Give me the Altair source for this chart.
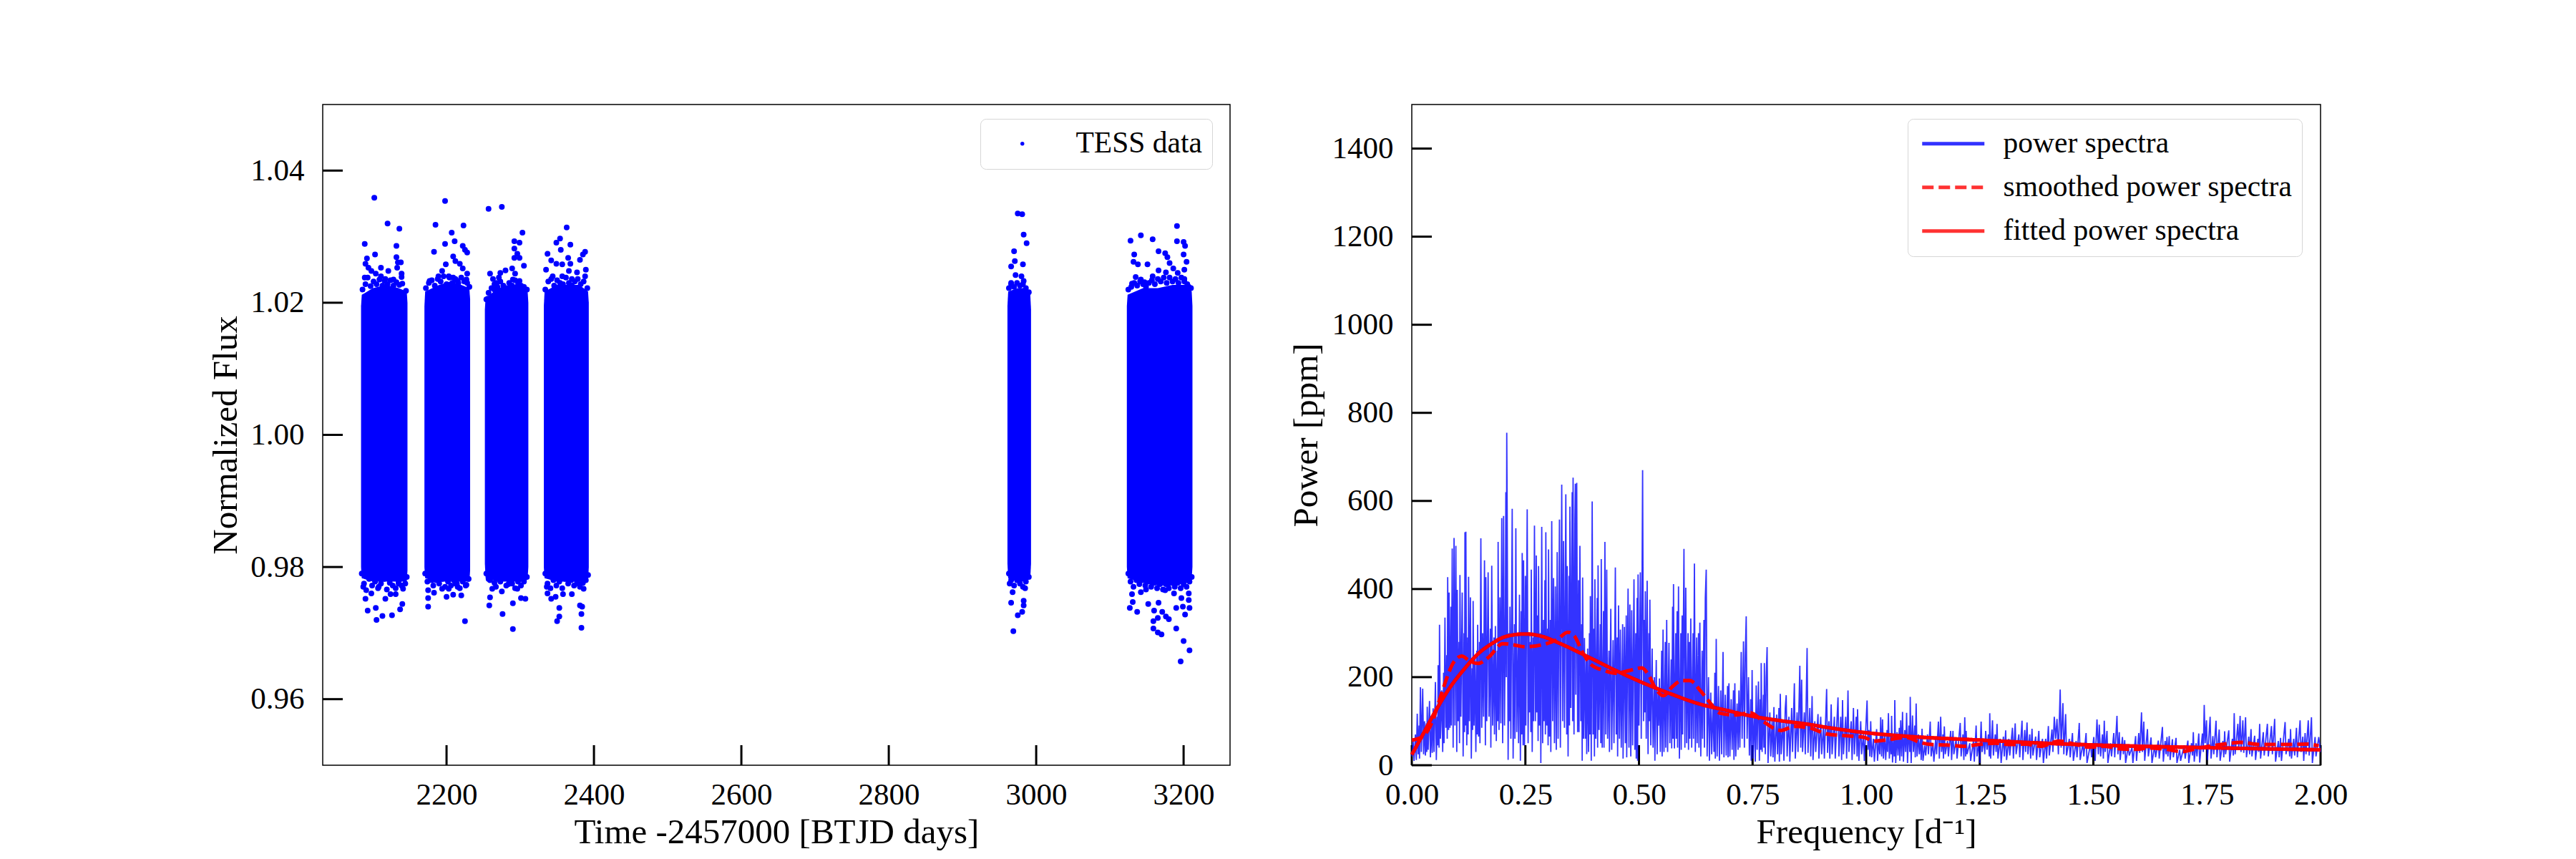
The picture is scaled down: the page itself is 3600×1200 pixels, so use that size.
import pandas as pd
import altair as alt

FONT = "Liberation Serif"

# light curve: solid part of each sector
sector_1 = [(2084, 1.0195, 0.9800), (2085, 1.0212, 0.9783), (2100, 1.0222, 0.9778), (2118, 1.0227, 0.9778), (2135, 1.0222, 0.9778), (2146, 1.0217, 0.9778), (2147, 1.0200, 0.9795)]
sector_2 = [(2170, 1.0195, 0.9800), (2171, 1.0217, 0.9783), (2190, 1.0227, 0.9778), (2205, 1.0232, 0.9778), (2220, 1.0227, 0.9778), (2231, 1.0222, 0.9778), (2232, 1.0205, 0.9795)]
sector_3 = [(2252, 1.0190, 0.9805), (2253, 1.0207, 0.9783), (2270, 1.0222, 0.9778), (2285, 1.0227, 0.9778), (2300, 1.0227, 0.9778), (2310, 1.0217, 0.9783), (2311, 1.0200, 0.9800)]
sector_4 = [(2332, 1.0195, 0.9800), (2333, 1.0217, 0.9783), (2350, 1.0227, 0.9778), (2365, 1.0227, 0.9778), (2380, 1.0227, 0.9778), (2392, 1.0217, 0.9778), (2393, 1.0200, 0.9800)]
sector_5 = [(2961, 1.0195, 0.9805), (2962, 1.0217, 0.9783), (2975, 1.0222, 0.9778), (2985, 1.0222, 0.9778), (2992, 1.0212, 0.9783), (2993, 1.0190, 0.9805)]
sector_6 = [(3123, 1.0195, 0.9800), (3124, 1.0212, 0.9783), (3145, 1.0222, 0.9776), (3165, 1.0222, 0.9772), (3185, 1.0227, 0.9772), (3205, 1.0227, 0.9776), (3211, 1.0217, 0.9783), (3212, 1.0195, 0.9800)]

# light curve: points along the ragged rim of the solid part
rim_1 = [(2086, 1.0220), (2090, 1.0228), (2093, 1.0238), (2097, 1.0225), (2101, 1.0232), (2105, 1.0228), (2109, 1.0235), (2113, 1.0226), (2116, 1.0233), (2120, 1.0228), (2124, 1.0234), (2128, 1.0226), (2132, 1.0231), (2136, 1.0227), (2140, 1.0229), (2145, 1.0218),
         (2085, 0.9790), (2088, 0.9775), (2091, 0.9765), (2095, 0.9782), (2099, 0.9772), (2103, 0.9778), (2107, 0.9768), (2111, 0.9775), (2115, 0.9782), (2119, 0.9766), (2123, 0.9776), (2127, 0.9772), (2131, 0.9768), (2135, 0.9778), (2139, 0.9772), (2144, 0.9775), (2146, 0.9785)]
rim_2 = [(2172, 1.0222), (2176, 1.0230), (2180, 1.0234), (2184, 1.0226), (2188, 1.0236), (2192, 1.0232), (2196, 1.0240), (2200, 1.0228), (2204, 1.0238), (2208, 1.0230), (2212, 1.0236), (2216, 1.0230), (2220, 1.0238), (2224, 1.0232), (2228, 1.0230), (2231, 1.0224),
         (2171, 0.9790), (2174, 0.9778), (2178, 0.9785), (2182, 0.9772), (2186, 0.9780), (2190, 0.9775), (2194, 0.9782), (2198, 0.9770), (2202, 0.9778), (2206, 0.9772), (2210, 0.9780), (2214, 0.9775), (2218, 0.9768), (2222, 0.9778), (2226, 0.9772), (2230, 0.9782)]
rim_3 = [(2254, 1.0205), (2257, 1.0215), (2261, 1.0222), (2265, 1.0228), (2269, 1.0224), (2273, 1.0232), (2277, 1.0226), (2281, 1.0222), (2285, 1.0230), (2289, 1.0226), (2293, 1.0234), (2297, 1.0228), (2301, 1.0226), (2305, 1.0224), (2309, 1.0220),
         (2254, 0.9790), (2257, 0.9782), (2261, 0.9786), (2265, 0.9776), (2269, 0.9782), (2273, 0.9778), (2277, 0.9785), (2281, 0.9772), (2285, 0.9780), (2289, 0.9775), (2293, 0.9768), (2297, 0.9778), (2301, 0.9772), (2305, 0.9780), (2309, 0.9785)]
rim_4 = [(2334, 1.0220), (2338, 1.0232), (2342, 1.0236), (2346, 1.0226), (2350, 1.0234), (2354, 1.0230), (2358, 1.0228), (2362, 1.0238), (2366, 1.0230), (2370, 1.0226), (2374, 1.0232), (2378, 1.0236), (2382, 1.0228), (2386, 1.0232), (2391, 1.0222),
         (2334, 0.9790), (2337, 0.9775), (2341, 0.9768), (2345, 0.9780), (2349, 0.9772), (2353, 0.9778), (2357, 0.9768), (2361, 0.9782), (2365, 0.9775), (2369, 0.9780), (2373, 0.9772), (2377, 0.9778), (2381, 0.9770), (2385, 0.9776), (2389, 0.9780), (2392, 0.9788)]
rim_5 = [(2963, 1.0222), (2966, 1.0228), (2970, 1.0224), (2974, 1.0230), (2978, 1.0226), (2982, 1.0228), (2986, 1.0222), (2990, 1.0216),
         (2963, 0.9790), (2966, 0.9780), (2970, 0.9772), (2974, 0.9780), (2978, 0.9775), (2982, 0.9770), (2986, 0.9778), (2990, 0.9785)]
rim_6 = [(3125, 1.0220), (3129, 1.0224), (3133, 1.0230), (3137, 1.0226), (3141, 1.0232), (3145, 1.0228), (3149, 1.0224), (3153, 1.0230), (3157, 1.0234), (3161, 1.0228), (3165, 1.0236), (3169, 1.0232), (3173, 1.0238), (3177, 1.0230), (3181, 1.0238), (3185, 1.0232), (3189, 1.0236), (3193, 1.0230), (3197, 1.0238), (3201, 1.0232), (3205, 1.0228), (3210, 1.0222),
         (3125, 0.9790), (3128, 0.9778), (3132, 0.9770), (3136, 0.9780), (3140, 0.9774), (3144, 0.9780), (3148, 0.9772), (3152, 0.9778), (3156, 0.9770), (3160, 0.9776), (3164, 0.9768), (3168, 0.9774), (3172, 0.9766), (3176, 0.9774), (3180, 0.9768), (3184, 0.9776), (3188, 0.9770), (3192, 0.9776), (3196, 0.9768), (3200, 0.9774), (3204, 0.9770), (3208, 0.9778), (3211, 0.9785)]

# light curve: single points outside the solid part
points_1 = [(2102, 1.0359), (2120, 1.0320), (2136, 1.0312), (2089, 1.0289), (2132, 1.0286), (2103, 1.0273), (2132, 1.0269), (2092, 1.0267), (2134, 1.0261), (2138, 1.0261), (2090, 1.0259), (2094, 1.0253), (2111, 1.0253), (2133, 1.0253), (2098, 1.0248), (2121, 1.0248), (2104, 1.0244), (2139, 1.0244), (2089, 1.0238), (2111, 1.0240), (2117, 1.0236), (2139, 1.0239), (2128, 1.0235),
            (2090, 0.9752), (2093, 0.9734), (2104, 0.9738), (2105, 0.9720), (2113, 0.9726), (2126, 0.9727), (2137, 0.9736), (2140, 0.9744), (2117, 0.9752), (2124, 0.9759), (2131, 0.9759), (2141, 0.9767), (2098, 0.9760), (2087, 0.9770), (2108, 0.9770), (2135, 0.9775)]
points_2 = [(2198, 1.0354), (2185, 1.0318), (2223, 1.0317), (2207, 1.0306), (2211, 1.0293), (2198, 1.0289), (2222, 1.0286), (2225, 1.0280), (2228, 1.0276), (2183, 1.0277), (2209, 1.0270), (2212, 1.0263), (2218, 1.0259), (2199, 1.0258), (2222, 1.0252), (2194, 1.0248), (2228, 1.0244), (2203, 1.0240), (2189, 1.0240), (2227, 1.0235), (2209, 1.0238), (2177, 1.0233), (2215, 1.0233),
            (2175, 0.9740), (2175, 0.9753), (2175, 0.9765), (2183, 0.9761), (2200, 0.9755), (2209, 0.9758), (2220, 0.9757), (2225, 0.9718), (2227, 0.9773), (2194, 0.9767), (2203, 0.9767), (2215, 0.9770), (2180, 0.9780), (2212, 0.9775)]
points_3 = [(2257, 1.0342), (2275, 1.0345), (2303, 1.0306), (2292, 1.0293), (2299, 1.0291), (2292, 1.0282), (2296, 1.0274), (2299, 1.0268), (2292, 1.0268), (2305, 1.0256), (2259, 1.0244), (2273, 1.0245), (2280, 1.0249), (2289, 1.0252), (2293, 1.0244), (2263, 1.0236), (2271, 1.0238), (2299, 1.0233), (2268, 1.0230), (2290, 1.0235), (2305, 1.0221), (2265, 1.0220), (2256, 1.0206),
            (2276, 0.9729), (2290, 0.9706), (2258, 0.9742), (2259, 0.9754), (2262, 0.9767), (2267, 0.9770), (2275, 0.9763), (2290, 0.9745), (2301, 0.9753), (2307, 0.9752), (2296, 0.9767), (2284, 0.9774), (2305, 0.9778), (2259, 0.9780)]
points_4 = [(2363, 1.0314), (2354, 1.0297), (2349, 1.0291), (2368, 1.0288), (2355, 1.0280), (2337, 1.0274), (2388, 1.0277), (2365, 1.0268), (2385, 1.0273), (2342, 1.0264), (2381, 1.0265), (2349, 1.0259), (2368, 1.0259), (2357, 1.0258), (2389, 1.0250), (2335, 1.0250), (2366, 1.0248), (2377, 1.0246), (2344, 1.0240), (2388, 1.0240), (2357, 1.0240), (2370, 1.0236),
            (2350, 0.9718), (2353, 0.9725), (2383, 0.9708), (2383, 0.9729), (2381, 0.9742), (2384, 0.9740), (2353, 0.9738), (2336, 0.9770), (2337, 0.9760), (2342, 0.9752), (2348, 0.9755), (2358, 0.9759), (2370, 0.9759), (2386, 0.9767), (2380, 0.9774)]
points_5 = [(2975, 1.0335), (2981, 1.0334), (2983, 1.0303), (2987, 1.0290), (2970, 1.0278), (2971, 1.0263), (2966, 1.0255), (2982, 1.0258), (2972, 1.0242), (2980, 1.0240), (2966, 1.0230), (2983, 1.0233),
            (2968, 0.9762), (2966, 0.9746), (2983, 0.9749), (2983, 0.9742), (2981, 0.9732), (2975, 0.9727), (2969, 0.9703), (2985, 0.9768), (2964, 0.9775)]
points_6 = [(3191, 1.0316), (3142, 1.0302), (3128, 1.0294), (3158, 1.0296), (3191, 1.0293), (3200, 1.0292), (3202, 1.0286), (3166, 1.0278), (3175, 1.0275), (3133, 1.0273), (3178, 1.0269), (3200, 1.0273), (3132, 1.0262), (3204, 1.0262), (3138, 1.0258), (3151, 1.0258), (3181, 1.0260), (3186, 1.0252), (3166, 1.0249), (3176, 1.0246), (3201, 1.0250), (3192, 1.0245), (3158, 1.0240), (3135, 1.0239), (3142, 1.0235), (3147, 1.0231), (3201, 1.0236), (3130, 1.0229), (3207, 1.0224),
            (3196, 0.9657), (3208, 0.9674), (3200, 0.9688), (3190, 0.9707), (3170, 0.9698), (3165, 0.9701), (3159, 0.9707), (3159, 0.9718), (3165, 0.9723), (3180, 0.9721), (3176, 0.9725), (3171, 0.9732), (3160, 0.9734), (3137, 0.9732), (3127, 0.9738), (3202, 0.9728), (3190, 0.9738), (3208, 0.9738), (3199, 0.9740), (3131, 0.9747), (3152, 0.9744), (3166, 0.9746), (3207, 0.9750), (3197, 0.9753), (3187, 0.9760), (3142, 0.9762), (3130, 0.9759), (3207, 0.9760), (3149, 0.9766), (3175, 0.9765)]

# power spectrum, peak and trough readings in order of frequency
spectrum_a = [(0.000, 20), (0.003, 55), (0.005, 10), (0.008, 70), (0.010, 12), (0.012, 117), (0.014, 25), (0.016, 90), (0.017, 15), (0.019, 177), (0.021, 30), (0.024, 174), (0.026, 25), (0.028, 100), (0.030, 22), (0.032, 95), (0.033, 30), (0.034, 133), (0.036, 35), (0.039, 146), (0.041, 18), (0.044, 105), (0.045, 28), (0.047, 129), (0.049, 30), (0.052, 189), (0.054, 12), (0.056, 110), (0.057, 45), (0.058, 227), (0.060, 40), (0.061, 319), (0.063, 60), (0.066, 170), (0.068, 30), (0.070, 210), (0.071, 50), (0.073, 335), (0.075, 85), (0.077, 250), (0.078, 60), (0.079, 427), (0.081, 80), (0.082, 392), (0.084, 85), (0.086, 360), (0.087, 90), (0.089, 492), (0.091, 40), (0.093, 516), (0.095, 90), (0.097, 498), (0.099, 30), (0.100, 398), (0.102, 100), (0.104, 280), (0.105, 50), (0.106, 432), (0.108, 110), (0.111, 392), (0.113, 20), (0.115, 300), (0.116, 75), (0.117, 529), (0.118, 90), (0.119, 530), (0.121, 45), (0.123, 290), (0.124, 70), (0.125, 428), (0.127, 100), (0.129, 381), (0.131, 15), (0.133, 220), (0.134, 80), (0.135, 373), (0.137, 90), (0.139, 250), (0.141, 30), (0.143, 260), (0.144, 70), (0.145, 319), (0.147, 65), (0.149, 280), (0.150, 50), (0.152, 515), (0.154, 85), (0.156, 300), (0.158, 110), (0.160, 465), (0.162, 45), (0.163, 427), (0.165, 100), (0.168, 438), (0.170, 110), (0.173, 310), (0.174, 40), (0.176, 453), (0.178, 90), (0.181, 290), (0.182, 70), (0.184, 316), (0.186, 55), (0.188, 260), (0.189, 100), (0.190, 507), (0.192, 80), (0.194, 381), (0.196, 95), (0.198, 561), (0.200, 50), (0.202, 566), (0.204, 90), (0.206, 350), (0.207, 620), (0.208, 200), (0.209, 755), (0.210, 566), (0.212, 12), (0.214, 300), (0.215, 100), (0.216, 360), (0.218, 60), (0.221, 582), (0.223, 15), (0.226, 320), (0.227, 60), (0.229, 538), (0.231, 75), (0.234, 300), (0.235, 50), (0.237, 387), (0.239, 10), (0.241, 350), (0.242, 70), (0.243, 482), (0.245, 45), (0.246, 465), (0.248, 45), (0.250, 430)]
spectrum_b = [(0.251, 90), (0.254, 581), (0.256, 50), (0.258, 300), (0.259, 120), (0.261, 280), (0.262, 75), (0.263, 444), (0.265, 30), (0.267, 290), (0.268, 100), (0.270, 544), (0.272, 100), (0.274, 476), (0.275, 120), (0.277, 340), (0.278, 55), (0.279, 452), (0.281, 90), (0.283, 300), (0.284, 5), (0.286, 541), (0.288, 50), (0.290, 330), (0.291, 100), (0.293, 420), (0.294, 70), (0.295, 529), (0.297, 90), (0.299, 310), (0.300, 45), (0.301, 490), (0.303, 65), (0.305, 330), (0.306, 30), (0.308, 554), (0.310, 100), (0.312, 425), (0.314, 50), (0.316, 406), (0.318, 35), (0.320, 484), (0.322, 60), (0.325, 558), (0.327, 40), (0.330, 637), (0.332, 100), (0.334, 509), (0.336, 85), (0.339, 615), (0.341, 70), (0.342, 452), (0.344, 20), (0.346, 430), (0.347, 90), (0.348, 587), (0.350, 130), (0.352, 480), (0.353, 620), (0.354, 100), (0.355, 653), (0.357, 70), (0.359, 560), (0.360, 639), (0.361, 160), (0.363, 641), (0.365, 75), (0.367, 420), (0.368, 75), (0.370, 498), (0.372, 100), (0.374, 320), (0.375, 10), (0.376, 426), (0.378, 60), (0.380, 289), (0.382, 60), (0.384, 250), (0.385, 25), (0.387, 265), (0.389, 30), (0.391, 300), (0.392, 70), (0.393, 384), (0.395, 10), (0.397, 599), (0.399, 70), (0.401, 310), (0.402, 20), (0.403, 422), (0.405, 60), (0.408, 380), (0.409, 40), (0.410, 454), (0.412, 80), (0.415, 320), (0.416, 50), (0.417, 468), (0.419, 40), (0.422, 350), (0.423, 40), (0.425, 507), (0.427, 70), (0.429, 444), (0.431, 60), (0.434, 260), (0.435, 30), (0.438, 355), (0.440, 35), (0.443, 284), (0.445, 50), (0.448, 449), (0.450, 70), (0.452, 290), (0.453, 20), (0.455, 363), (0.457, 60), (0.459, 308), (0.461, 40), (0.464, 320), (0.465, 15), (0.468, 314), (0.470, 50), (0.472, 340), (0.473, 18), (0.476, 401), (0.478, 40), (0.480, 365), (0.482, 20), (0.484, 352), (0.486, 45), (0.489, 422), (0.491, 35), (0.493, 300), (0.494, 15), (0.496, 380), (0.497, 10), (0.498, 433), (0.500, 90), (0.503, 438), (0.505, 60), (0.508, 670)]
spectrum_c = [(0.510, 100), (0.512, 330), (0.513, 120), (0.514, 395), (0.516, 60), (0.518, 419), (0.520, 25), (0.522, 300), (0.523, 100), (0.524, 376), (0.526, 45), (0.529, 265), (0.531, 40), (0.534, 200), (0.535, 10), (0.538, 239), (0.540, 25), (0.542, 170), (0.543, 90), (0.545, 197), (0.547, 30), (0.550, 260), (0.551, 20), (0.553, 308), (0.555, 30), (0.558, 280), (0.559, 40), (0.561, 330), (0.563, 30), (0.566, 278), (0.568, 50), (0.571, 240), (0.572, 38), (0.574, 360), (0.575, 60), (0.576, 411), (0.578, 38), (0.581, 300), (0.582, 60), (0.584, 350), (0.585, 40), (0.587, 406), (0.589, 15), (0.592, 300), (0.593, 35), (0.595, 340), (0.596, 70), (0.599, 491), (0.601, 40), (0.603, 403), (0.605, 50), (0.608, 300), (0.609, 35), (0.611, 280), (0.612, 60), (0.614, 333), (0.616, 40), (0.619, 300), (0.620, 60), (0.622, 458), (0.624, 30), (0.627, 290), (0.628, 50), (0.631, 300), (0.632, 40), (0.634, 324), (0.636, 20), (0.639, 260), (0.640, 60), (0.643, 330), (0.644, 40), (0.646, 380), (0.648, 444), (0.650, 20), (0.653, 200), (0.655, 10), (0.658, 165), (0.660, 25), (0.663, 140), (0.665, 30), (0.667, 210), (0.668, 15), (0.670, 287), (0.672, 20), (0.675, 180), (0.677, 10), (0.680, 170), (0.682, 25), (0.685, 257), (0.687, 18), (0.690, 160), (0.692, 22), (0.695, 180), (0.696, 18), (0.698, 186), (0.700, 20), (0.703, 150), (0.705, 35), (0.708, 170), (0.709, 12), (0.711, 186), (0.713, 20), (0.716, 140), (0.718, 35), (0.720, 170), (0.722, 40), (0.725, 257), (0.727, 60), (0.730, 281), (0.732, 40), (0.734, 250), (0.736, 338), (0.738, 60), (0.741, 200), (0.743, 22), (0.746, 150), (0.747, 10), (0.749, 216), (0.751, 15), (0.754, 120), (0.756, 8), (0.758, 181), (0.760, 35), (0.763, 190), (0.765, 10), (0.767, 150), (0.768, 35), (0.769, 232), (0.771, 30), (0.774, 160), (0.775, 40), (0.776, 232), (0.778, 25), (0.780, 200), (0.782, 268), (0.784, 5), (0.788, 120), (0.790, 20), (0.793, 100), (0.795, 18), (0.797, 132), (0.799, 8), (0.803, 115), (0.805, 25), (0.808, 130), (0.809, 8), (0.811, 162), (0.813, 25), (0.817, 100), (0.819, 10), (0.822, 130), (0.824, 159), (0.826, 20), (0.830, 110), (0.832, 8), (0.836, 130), (0.838, 30), (0.842, 186), (0.844, 15), (0.848, 120), (0.850, 30), (0.854, 226), (0.856, 40), (0.858, 194), (0.860, 30), (0.864, 120), (0.866, 25), (0.870, 266), (0.872, 28), (0.876, 130), (0.878, 20), (0.881, 157), (0.883, 12), (0.887, 100), (0.889, 30), (0.894, 116), (0.896, 15), (0.900, 110), (0.902, 25), (0.906, 90), (0.908, 15), (0.913, 173), (0.915, 28), (0.918, 100), (0.920, 15), (0.923, 138), (0.925, 25), (0.930, 110), (0.932, 15), (0.938, 154), (0.940, 20), (0.944, 110), (0.946, 12), (0.948, 148), (0.950, 25), (0.955, 110), (0.957, 15), (0.960, 170), (0.962, 30), (0.967, 100), (0.969, 12), (0.972, 130), (0.974, 25), (0.978, 110), (0.980, 20), (0.981, 127), (0.984, 10), (0.988, 100), (0.990, 25), (0.994, 70), (0.996, 10), (1.002, 147), (1.004, 35), (1.006, 80), (1.008, 20), (1.010, 100)]
spectrum_d = [(1.012, 18), (1.016, 60), (1.018, 8), (1.021, 50), (1.023, 82), (1.025, 10), (1.028, 60), (1.030, 25), (1.032, 109), (1.034, 20), (1.036, 104), (1.038, 15), (1.041, 70), (1.043, 12), (1.046, 80), (1.047, 30), (1.049, 118), (1.051, 15), (1.054, 70), (1.055, 25), (1.056, 112), (1.058, 6), (1.061, 70), (1.062, 20), (1.063, 148), (1.065, 5), (1.068, 75), (1.070, 22), (1.073, 85), (1.074, 10), (1.076, 102), (1.078, 20), (1.080, 121), (1.082, 8), (1.085, 80), (1.087, 30), (1.089, 119), (1.091, 5), (1.094, 90), (1.096, 30), (1.097, 155), (1.099, 5), (1.102, 113), (1.104, 30), (1.107, 90), (1.108, 18), (1.110, 140), (1.112, 20), (1.115, 70), (1.117, 25), (1.120, 65), (1.121, 12), (1.123, 83), (1.125, 10), (1.129, 45), (1.131, 22), (1.135, 70), (1.137, 25), (1.141, 99), (1.143, 20), (1.147, 50), (1.149, 8), (1.153, 60), (1.155, 25), (1.159, 99), (1.161, 15), (1.164, 110), (1.166, 30), (1.169, 70), (1.170, 15), (1.172, 88), (1.174, 25), (1.179, 55), (1.181, 20), (1.186, 78), (1.188, 12), (1.191, 78), (1.193, 25), (1.198, 60), (1.200, 15), (1.207, 96), (1.209, 20), (1.213, 70), (1.215, 12), (1.217, 109), (1.219, 20), (1.220, 78), (1.222, 25), (1.228, 50), (1.230, 10), (1.236, 55), (1.238, 8), (1.242, 90), (1.244, 20), (1.248, 50), (1.250, 5), (1.253, 99), (1.255, 30), (1.259, 60), (1.261, 25), (1.263, 78), (1.266, 35), (1.269, 70), (1.271, 20), (1.272, 118), (1.274, 15), (1.278, 102), (1.280, 22), (1.284, 70), (1.286, 30), (1.288, 94), (1.290, 15), (1.295, 60), (1.297, 5), (1.302, 65), (1.304, 20), (1.307, 79), (1.309, 12), (1.314, 60), (1.316, 22), (1.322, 85), (1.324, 15), (1.328, 95), (1.330, 25), (1.336, 70), (1.338, 18), (1.343, 101), (1.345, 12), (1.349, 80), (1.351, 30), (1.354, 97), (1.356, 25), (1.360, 70), (1.362, 15), (1.365, 83), (1.367, 22), (1.373, 65), (1.375, 12), (1.380, 78), (1.382, 18), (1.388, 60), (1.390, 5), (1.395, 60), (1.397, 15), (1.401, 89), (1.403, 22), (1.409, 81), (1.411, 30), (1.414, 110), (1.417, 60), (1.420, 105), (1.423, 25), (1.427, 172), (1.429, 40), (1.433, 141), (1.435, 25), (1.439, 116), (1.441, 22), (1.447, 60), (1.449, 18), (1.454, 73), (1.456, 10), (1.462, 55), (1.464, 18), (1.469, 96), (1.471, 12), (1.477, 50), (1.479, 20), (1.484, 73), (1.486, 5), (1.494, 50), (1.496, 18), (1.501, 64), (1.504, 10), (1.508, 104)]
spectrum_e = [(1.511, 25), (1.513, 92), (1.516, 20), (1.520, 70), (1.522, 15), (1.524, 101), (1.526, 30), (1.530, 78), (1.532, 5), (1.538, 50), (1.540, 20), (1.545, 73), (1.547, 18), (1.552, 112), (1.554, 25), (1.557, 75), (1.559, 12), (1.564, 64), (1.566, 25), (1.569, 57), (1.571, 5), (1.577, 45), (1.579, 22), (1.585, 40), (1.587, 5), (1.593, 66), (1.595, 10), (1.600, 73), (1.602, 28), (1.606, 120), (1.608, 30), (1.611, 99), (1.613, 10), (1.619, 82), (1.621, 20), (1.627, 63), (1.629, 5), (1.635, 45), (1.637, 18), (1.643, 56), (1.645, 15), (1.652, 87), (1.654, 8), (1.658, 55), (1.660, 25), (1.662, 64), (1.664, 20), (1.667, 66), (1.669, 12), (1.674, 59), (1.676, 18), (1.682, 62), (1.684, 5), (1.690, 35), (1.692, 10), (1.700, 45), (1.702, 15), (1.708, 56), (1.710, 5), (1.716, 50), (1.718, 22), (1.720, 75), (1.722, 8), (1.726, 50), (1.728, 20), (1.732, 72), (1.734, 6), (1.740, 72), (1.742, 30), (1.744, 137), (1.746, 50), (1.749, 102), (1.751, 12), (1.757, 110), (1.759, 15), (1.763, 66), (1.765, 25), (1.770, 101), (1.772, 18), (1.777, 81), (1.779, 10), (1.785, 55), (1.787, 18), (1.789, 77), (1.791, 25), (1.798, 79), (1.800, 8), (1.806, 60), (1.808, 22), (1.810, 118), (1.812, 25), (1.818, 94), (1.820, 35), (1.823, 112), (1.825, 30), (1.829, 102), (1.831, 28), (1.835, 109), (1.837, 18), (1.842, 65), (1.844, 25), (1.847, 82), (1.849, 20), (1.855, 67), (1.857, 12), (1.862, 60), (1.864, 30), (1.866, 94), (1.868, 15), (1.874, 75), (1.876, 22), (1.883, 94), (1.885, 20), (1.892, 89), (1.894, 25), (1.899, 105), (1.901, 8), (1.907, 55), (1.909, 18), (1.912, 62), (1.914, 10), (1.922, 98), (1.924, 25), (1.930, 60), (1.932, 20), (1.934, 82), (1.936, 15), (1.941, 60), (1.943, 22), (1.947, 85), (1.949, 18), (1.955, 102), (1.957, 30), (1.961, 65), (1.963, 10), (1.966, 73), (1.968, 25), (1.973, 102), (1.975, 22), (1.980, 109), (1.982, 5), (1.988, 64), (1.990, 20), (1.996, 64), (2.000, 30)]

smoothed = [(0, 57), (0.022, 64), (0.043, 94), (0.061, 148), (0.076, 195), (0.091, 232), (0.11, 248), (0.128, 236), (0.146, 231), (0.17, 246), (0.2, 276), (0.225, 273), (0.249, 269), (0.285, 273), (0.321, 286), (0.343, 302), (0.358, 293), (0.376, 256), (0.394, 229), (0.424, 215), (0.449, 209), (0.479, 215), (0.506, 221), (0.521, 205), (0.536, 175), (0.554, 158), (0.573, 178), (0.594, 192), (0.612, 192), (0.636, 168), (0.654, 145), (0.679, 118), (0.712, 114), (0.745, 119), (0.775, 98), (0.812, 79), (0.842, 88), (0.878, 84), (0.913, 71), (0.955, 67), (0.997, 63), (1.015, 55), (1.041, 57), (1.076, 62), (1.089, 63), (1.118, 52), (1.144, 47), (1.178, 46), (1.215, 43), (1.246, 47), (1.283, 50), (1.317, 47), (1.351, 48), (1.383, 43), (1.425, 55), (1.461, 47), (1.493, 41), (1.524, 43), (1.561, 37), (1.59, 36), (1.624, 39), (1.661, 36), (1.695, 31), (1.724, 37), (1.761, 44), (1.803, 50), (1.824, 52), (1.866, 47), (1.908, 47), (1.934, 47), (1.968, 48), (1.996, 44)]
fitted = [(0, 24), (0.025, 71), (0.055, 128), (0.085, 178), (0.116, 219), (0.146, 253), (0.176, 276), (0.206, 292), (0.249, 298), (0.285, 293), (0.327, 276), (0.388, 246), (0.449, 215), (0.509, 187), (0.57, 162), (0.63, 140), (0.691, 125), (0.751, 111), (0.812, 101), (0.872, 93), (0.913, 86), (0.989, 75), (1.1, 65), (1.252, 57), (1.37, 51), (1.5, 46), (1.745, 40), (2.0, 35)]

time_ticks = [2200, 2400, 2600, 2800, 3000, 3200]
flux_ticks = [0.96, 0.98, 1.00, 1.02, 1.04]
freq_ticks = [0.00, 0.25, 0.50, 0.75, 1.00, 1.25, 1.50, 1.75, 2.00]
power_ticks = [0, 200, 400, 600, 800, 1000, 1200, 1400]

W = 1268
H = 923
TICK = 28


def axis_opts(title, values, fmt, pad, title_pad):
    return alt.Axis(title=title, values=values, format=fmt, grid=False, domain=False,
                    ticks=False, labelFont=FONT, labelFontSize=43, labelColor="black",
                    labelPadding=pad, titleFont=FONT, titleFontSize=49, titleFontWeight="normal",
                    titleColor="black", titlePadding=title_pad, labelFlush=False)


def legend_opts(x, y, **kw):
    return alt.Legend(title=None, orient="none", legendX=x, legendY=y, fillColor="white",
                      strokeColor="#d6d6d6", cornerRadius=8, labelFont=FONT, labelFontSize=41.5,
                      labelColor="black", labelLimit=800, **kw)


def ticks_layer(xvals, yvals, xscale, yscale):
    bottom = alt.Chart(pd.DataFrame({"t": xvals})).mark_rule(color="black", strokeWidth=3).encode(
        x=alt.X("t:Q", scale=xscale), y=alt.value(H), y2=alt.value(H - TICK))
    left = alt.Chart(pd.DataFrame({"t": yvals})).mark_rule(color="black", strokeWidth=3).encode(
        y=alt.Y("t:Q", scale=yscale), x=alt.value(0), x2=alt.value(TICK))
    return bottom, left


# light curve panel
time_scale = alt.Scale(domain=[2032, 3263], nice=False, zero=False)
flux_scale = alt.Scale(domain=[0.95, 1.05], nice=False, zero=False)

core_rows = []
for i, sector in enumerate([sector_1, sector_2, sector_3, sector_4, sector_5, sector_6]):
    for t, hi, lo in sector:
        core_rows.append({"time": t, "hi": hi, "lo": lo, "sector": i})
core = pd.DataFrame(core_rows)

single = pd.DataFrame(rim_1 + rim_2 + rim_3 + rim_4 + rim_5 + rim_6 + points_1 + points_2 + points_3 + points_4 + points_5 + points_6,
                      columns=["time", "flux"])
single["series"] = "TESS data"

tb, tl = ticks_layer(time_ticks, flux_ticks, time_scale, flux_scale)

core_layer = alt.Chart(core).mark_area(color="#0000ff").encode(
    x=alt.X("time:Q", scale=time_scale, axis=axis_opts("Time -2457000 [BTJD days]", time_ticks, "d", 20, 6)),
    y=alt.Y("hi:Q", scale=flux_scale, axis=axis_opts("Normalized Flux", flux_ticks, ".2f", 26, 9)),
    y2="lo:Q",
    detail="sector:N",
)
point_layer = alt.Chart(single).mark_circle(opacity=1, size=64).encode(
    x=alt.X("time:Q", scale=time_scale),
    y=alt.Y("flux:Q", scale=flux_scale),
    color=alt.Color("series:N", scale=alt.Scale(domain=["TESS data"], range=["#0000ff"]),
                    legend=legend_opts(919, 20, symbolSize=30, symbolType="circle", padding=14,
                                       symbolOffset=24, labelOffset=54)),
)
left_panel = alt.layer(tb, tl, core_layer, point_layer).properties(width=W, height=H)

# power spectrum panel
freq_scale = alt.Scale(domain=[0, 2], nice=False, zero=False)
power_scale = alt.Scale(domain=[0, 1500], nice=False, zero=False)
names = ["power spectra", "smoothed power spectra", "fitted power spectra"]
color_scale = alt.Scale(domain=names, range=["#0000ff", "#ff0000", "#ff0000"])
dash_scale = alt.Scale(domain=names, range=[[1, 0], [16, 7], [1, 0]])

spectrum = pd.DataFrame(spectrum_a + spectrum_b + spectrum_c + spectrum_d + spectrum_e, columns=["freq", "power"])
spectrum["series"] = names[0]
smooth_df = pd.DataFrame(smoothed, columns=["freq", "power"])
smooth_df["series"] = names[1]
fit_df = pd.DataFrame(fitted, columns=["freq", "power"])
fit_df["series"] = names[2]

sb, sl = ticks_layer(freq_ticks, power_ticks, freq_scale, power_scale)

# a long flat key: the path is wider than the symbol box, so the rows stay tight
shared_legend = legend_opts(693, 20, symbolType="M-3,0H3", symbolSize=841, symbolStrokeWidth=5,
                            padding=14, symbolOffset=29, labelOffset=49, rowPadding=18)


def spec_line(df, width, interp):
    return alt.Chart(df).mark_line(strokeWidth=width, interpolate=interp).encode(
        x=alt.X("freq:Q", scale=freq_scale, axis=axis_opts("Frequency [d⁻¹]", freq_ticks, ".2f", 20, 6)),
        y=alt.Y("power:Q", scale=power_scale, axis=axis_opts("Power [ppm]", power_ticks, "d", 26, 11)),
        color=alt.Color("series:N", scale=color_scale, legend=shared_legend),
        strokeDash=alt.StrokeDash("series:N", scale=dash_scale, legend=shared_legend),
    )


# the fitted line goes first as well, so the legend keys take its width
right_panel = alt.layer(spec_line(fit_df, 5, "monotone"), sb, sl,
                        spec_line(spectrum, 1.8, "linear").encode(opacity=alt.value(0.8)),
                        spec_line(smooth_df, 5, "monotone"),
                        spec_line(fit_df, 5, "monotone")).properties(width=1270, height=H)

chart = alt.hconcat(left_panel, right_panel, spacing=80).resolve_scale(
    color="independent", strokeDash="independent"
).configure_view(stroke="black", strokeWidth=1.5).properties(
    padding={"left": 283, "top": 137, "right": 0, "bottom": 0}, background="white"
)

chart.save("out.html", embed_options={"renderer": "svg", "actions": False})
